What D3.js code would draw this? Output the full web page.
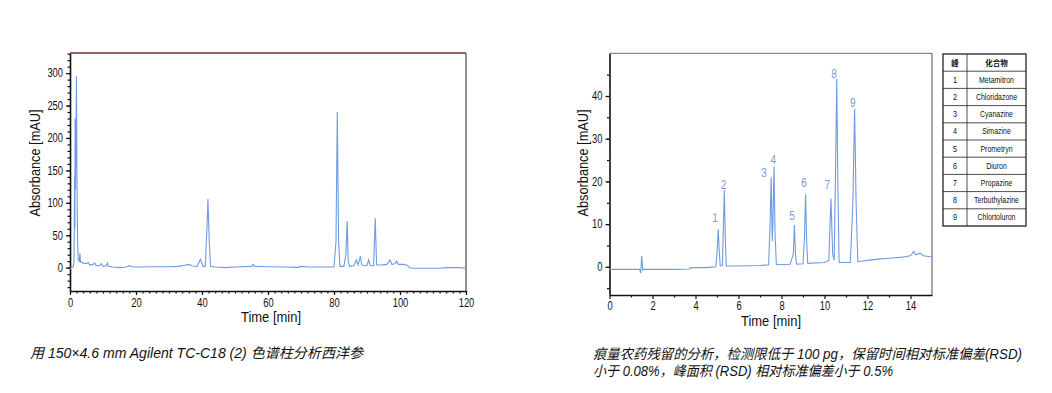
<!DOCTYPE html>
<html><head><meta charset="utf-8">
<script src="https://cdn.jsdelivr.net/npm/d3@7"></script>
<style>
body{margin:0;background:#fff;}
svg{display:block;}
</style>
</head><body>
<svg id="c" width="1052" height="393"></svg>
<script>
// ---------- DATA ----------
// Left chromatogram (Time [min], Absorbance [mAU])
const leftTrace = [
 [0,-2],[0.5,0],[1.0,2],[1.2,10],[1.3,60],[1.4,140],[1.47,60],[1.55,230],[1.65,120],[1.8,200],[1.95,295],[2.1,150],[2.3,40],[2.5,12],[2.8,10],[3.0,22],[3.2,9],[4,7],[5,6],[5.5,8],[6,4],[7,5],[7.5,7],[8,3],[9,3],[9.5,6],[10,2],[11,3],[11.3,7],[11.6,2],[13,1],[15,0],[17,1],[18,3],[19,1],[22,1],[25,1.5],[30,1.5],[33,2],[35,4],[36,5],[37,3],[38.5,1.5],[39.5,13],[40.3,2],[41,2],[41.5,60],[41.8,106],[42.2,40],[42.6,2],[44,1],[47,0],[50,1],[55,2],[55.5,5],[56,2],[60,1.5],[65,1],[69,0.5],[70,2],[72,1],[78,1],[80,1],[80.6,40],[81,240],[81.4,40],[81.8,2],[83,2],[83.6,20],[84,72],[84.3,10],[84.7,2],[86,3],[86.8,12],[87.3,4],[88,18],[88.4,4],[90,3],[90.5,12],[91,3],[92,3],[92.5,76],[92.9,4],[94,4],[96,5],[97,12],[97.5,5],[98.5,6],[99,10],[99.5,5],[101,5],[102,4],[103,0],[103.5,-1],[108,-1],[112,-1],[114,0],[118,0],[120,-1]
];
// Right chromatogram
const rightTrace = [
 [0,-0.6],[1.4,-0.6],[1.45,-1.5],[1.5,2.5],[1.55,-0.8],[1.6,-0.6],[3,-0.6],[3.7,-0.5],[3.8,-0.2],[4.5,-0.2],[4.95,0],[5.02,5],[5.06,8.8],[5.1,4],[5.15,0.2],[5.25,0.3],[5.3,10],[5.34,18],[5.38,8],[5.43,0.2],[6,0.2],[7,0.3],[7.4,0.5],[7.47,10],[7.52,21],[7.57,6],[7.6,10],[7.65,23.5],[7.7,8],[7.76,0.5],[8.4,0.6],[8.55,3],[8.6,9.8],[8.65,3],[8.7,0.6],[9.0,0.7],[9.07,7],[9.12,17],[9.17,6],[9.22,0.8],[10.0,1.0],[10.2,1.5],[10.3,16],[10.38,3],[10.45,1.5],[10.52,25],[10.57,44],[10.62,20],[10.68,1],[11.2,1.0],[11.32,15],[11.4,37],[11.47,15],[11.55,1.2],[12,1.5],[12.5,1.8],[13,2.0],[13.5,2.2],[14,2.6],[14.15,3.6],[14.25,2.8],[14.45,3.2],[14.6,2.6],[15,2.3]
];
// Peak labels (right chart)
const peakNumbers = ["1","2","3","4","5","6","7","8","9"];
const peakLabelTimes = [4.91,5.30,7.19,7.62,8.49,9.05,10.13,10.44,11.31];
const peakLabelValues = [11.7,19.5,22.3,25.3,12.1,19.9,19.3,45.4,38.7];
// Table
const tableHeader = ["峰","化合物"];
const compounds = ["Metamitron","Chloridazone","Cyanazine","Simazine","Prometryn","Diuron","Propazine","Terbuthylazine","Chlortoluron"];
// Ticks
const leftXTicks = [0,20,40,60,80,100,120];
const leftYTicks = [0,50,100,150,200,250,300];
const rightXTicks = [0,2,4,6,8,10,12,14];
const rightYTicks = [0,10,20,30,40];
const xTitle = "Time [min]";
const yTitle = "Absorbance [mAU]";
const captionLeft = "用 150×4.6 mm Agilent TC-C18 (2) 色谱柱分析西洋参";
const captionRight = ["痕量农药残留的分析，检测限低于 100 pg，保留时间相对标准偏差(RSD)","小于 0.08%，峰面积 (RSD) 相对标准偏差小于 0.5%"];

// ---------- DRAW ----------
const svg = d3.select("#c");
svg.append("rect").attr("width",1052).attr("height",393).attr("fill","#fff");
const lineColor = "#6f9be0";
const FONT = '"Liberation Sans",Arial,sans-serif';

function condense(sel, f){
  sel.each(function(){
    const L = this.getComputedTextLength();
    d3.select(this).attr("textLength", L*f).attr("lengthAdjust","spacingAndGlyphs");
  });
}
function fitTo(sel, w){
  sel.each(function(){
    d3.select(this).attr("textLength", w).attr("lengthAdjust","spacingAndGlyphs");
  });
}

function chart(opts){
  const {x,y,trace,xTicks,yTicks,xMinor,yMinor,topColor,rightColor,titleX,titleY,xLabelDy} = opts;
  const g = svg.append("g");
  const [x0,x1] = x.range(), [y0,y1] = y.range();
  g.append("line").attr("x1",x0).attr("x2",x1).attr("y1",y1).attr("y2",y1).attr("stroke",topColor).attr("stroke-width",1.3);
  g.append("line").attr("x1",x1).attr("x2",x1).attr("y1",y1).attr("y2",y0).attr("stroke",rightColor).attr("stroke-width",1.3);
  const xa = g.append("g").attr("transform",`translate(0,${y0})`)
    .call(d3.axisBottom(x).tickValues(xMinor).tickSize(2.5).tickFormat(""));
  xa.select(".domain").remove();
  const ya = g.append("g").attr("transform",`translate(${x0},0)`)
    .call(d3.axisLeft(y).tickValues(yMinor).tickSize(2.5).tickFormat(""));
  ya.select(".domain").remove();
  const xb = g.append("g").attr("transform",`translate(0,${y0})`)
    .call(d3.axisBottom(x).tickValues(xTicks).tickSize(4).tickSizeOuter(0).tickPadding(xLabelDy));
  const yb = g.append("g").attr("transform",`translate(${x0},0)`)
    .call(d3.axisLeft(y).tickValues(yTicks).tickSize(4).tickSizeOuter(0).tickPadding(3));
  [xa,ya,xb,yb].forEach(a=>{
    a.selectAll("line").attr("stroke","#111").attr("stroke-width",1.2);
    a.selectAll("path").attr("stroke","#111").attr("stroke-width",1.6);
    a.selectAll("text").attr("font-family",FONT).attr("font-size",12).attr("fill","#111");
  });
  condense(xb.selectAll("text"),0.78);
  condense(yb.selectAll("text"),0.78);
  g.append("path").datum(trace)
    .attr("d",d3.line().x(d=>x(d[0])).y(d=>y(d[1])))
    .attr("fill","none").attr("stroke",lineColor).attr("stroke-width",1.1);
  const tx = g.append("text").attr("x",titleX[0]).attr("y",titleX[1]).attr("text-anchor","middle")
    .attr("font-family",FONT).attr("font-size",15).attr("fill","#111").text(xTitle);
  fitTo(tx,60);
  const ty = g.append("text").attr("transform",`translate(${titleY[0]},${titleY[1]}) rotate(-90)`).attr("text-anchor","middle")
    .attr("font-family",FONT).attr("font-size",15).attr("fill","#111").text(yTitle);
  fitTo(ty,107);
  return g;
}

const xL = d3.scaleLinear().domain([0,120]).range([70,466]);
const yL = d3.scaleLinear().domain([-36,331]).range([291,53]);
chart({x:xL,y:yL,trace:leftTrace,xTicks:leftXTicks,yTicks:leftYTicks,
  xMinor:d3.range(0,121,2),yMinor:d3.range(-30,331,10),
  topColor:"#7a2e2e",rightColor:"#555",titleX:[271,322],titleY:[40,163],xLabelDy:3});

const xR = d3.scaleLinear().domain([0,15]).range([609.5,932]);
const yR = d3.scaleLinear().domain([-6.6,50]).range([295,53.3]);
const gR = chart({x:xR,y:yR,trace:rightTrace,xTicks:rightXTicks,yTicks:rightYTicks,
  xMinor:d3.range(1,15,2),yMinor:d3.range(-5,50,5),
  topColor:"#888",rightColor:"#777",titleX:[771,326],titleY:[588,163],xLabelDy:2});

const pl = gR.selectAll(".peaklab").data(peakNumbers).join("text")
  .attr("x",(d,i)=>xR(peakLabelTimes[i])).attr("y",(d,i)=>yR(peakLabelValues[i])+5)
  .attr("text-anchor","middle").attr("font-family",FONT).attr("font-size",12.5)
  .attr("fill","#7d9bd6").text(d=>d);
condense(pl,0.8);

// table
const tb = svg.append("g");
const tx0=943, tx1=1026, tc=967, ty0=54, rowH=17.2;
const rows = [tableHeader].concat(compounds.map((c,i)=>[peakNumbers[i],c]));
rows.forEach((r,i)=>{
  const yy = ty0 + i*rowH;
  const hdr = i===0;
  const fam = hdr ? '"Noto Sans CJK SC",sans-serif' : FONT;
  const t1 = tb.append("text").attr("x",(tx0+tc)/2).attr("y",yy+rowH/2+3).attr("text-anchor","middle")
    .attr("font-family",fam).attr("font-weight",hdr?"bold":"normal")
    .attr("font-size",hdr?7.5:8.5).attr("fill","#111").text(r[0]);
  const t2 = tb.append("text").attr("x",(tc+tx1)/2).attr("y",yy+rowH/2+3).attr("text-anchor","middle")
    .attr("font-family",fam).attr("font-weight",hdr?"bold":"normal")
    .attr("font-size",hdr?7.5:8.5).attr("fill","#111").text(r[1]);
  if(!hdr){ condense(t1,0.85); condense(t2,0.82); }
  if(i>0) tb.append("line").attr("x1",tx0).attr("x2",tx1).attr("y1",yy).attr("y2",yy).attr("stroke","#222").attr("stroke-width",0.8);
});
tb.append("rect").attr("x",tx0).attr("y",ty0).attr("width",tx1-tx0).attr("height",rowH*rows.length)
  .attr("fill","none").attr("stroke","#111").attr("stroke-width",1.2);
tb.append("line").attr("x1",tc).attr("x2",tc).attr("y1",ty0).attr("y2",ty0+rowH*rows.length).attr("stroke","#222").attr("stroke-width",0.8);

// captions
const CAP = '"Liberation Sans","Noto Sans CJK SC",sans-serif';
const c1 = svg.append("text").attr("x",30).attr("y",358).attr("font-family",CAP).attr("font-style","italic")
  .attr("font-size",14).attr("fill","#111").text(captionLeft);
fitTo(c1,333);
const capW = [429,300];
captionRight.forEach((t,i)=>{
  const c = svg.append("text").attr("x",593).attr("y",359+i*17).attr("font-family",CAP).attr("font-style","italic")
    .attr("font-size",14).attr("fill","#111").text(t);
  fitTo(c,capW[i]);
});
</script>
</body></html>
